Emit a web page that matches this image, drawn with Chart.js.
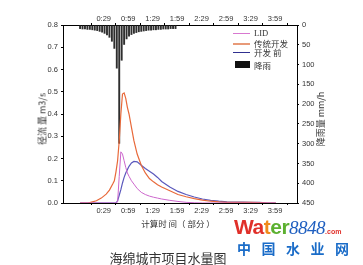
<!DOCTYPE html>
<html>
<head>
<meta charset="utf-8">
<script src="https://cdn.jsdelivr.net/npm/chart.js@4"></script>
<style>
  body { margin: 0; background: #fff; }
  #wrap { position: relative; width: 363px; height: 265px; overflow: hidden; font-family: "Noto Sans CJK SC", sans-serif; color: #333; }
  #chart { position: absolute; left: 0; top: 0; }
  .abs { position: absolute; white-space: nowrap; }
  .leg { position: absolute; font-size: 8.5px; line-height: 10px; color: #333; }
  .sw { position: absolute; width: 17px; height: 0; border-top: 1px solid; }
</style>
</head>
<body>
<div id="wrap">
  <canvas id="chart" width="363" height="265"></canvas>

  <!-- axis titles -->
  <div class="abs" style="left:42px;top:119px;font-size:9px;transform:translate(-50%,-50%) rotate(-90deg);">径流 量 m3/s</div>
  <div class="abs" style="left:320px;top:119px;font-size:9px;transform:translate(-50%,-50%) rotate(-90deg);">降雨量 mm/h</div>
  <div class="abs" style="left:178px;top:223px;font-size:8.5px;transform:translate(-50%,-50%);">计算时 间（ 部分 ）</div>

  <!-- legend -->
  <div class="sw" style="left:233px;top:33px;border-color:#d878d0;"></div>
  <div class="leg" style="left:254px;top:28px;font-family:'Liberation Serif',serif;">LID</div>
  <div class="sw" style="left:233px;top:43px;border-color:#e89a78;border-top-width:2px;"></div>
  <div class="leg" style="left:254px;top:38px;">传统开发</div>
  <div class="sw" style="left:233px;top:52px;border-color:#303090;"></div>
  <div class="leg" style="left:254px;top:47px;">开发 前</div>
  <div class="abs" style="left:235px;top:61px;width:15px;height:7px;background:#111;"></div>
  <div class="leg" style="left:254px;top:60px;">降雨</div>

  <!-- caption -->
  <div class="abs" style="left:168px;top:257px;font-size:13px;transform:translate(-50%,-50%);color:#333;">海绵城市项目水量图</div>

  <!-- watermark -->
  <div class="abs" style="left:234px;top:216px;font-family:'Liberation Sans',sans-serif;font-weight:bold;font-size:21px;line-height:22px;letter-spacing:-0.5px;">
    <span style="color:#e0302a;">Wa</span><span style="color:#f08a1c;">t</span><span style="color:#5cb030;">er</span><span style="font-family:'Liberation Serif',serif;font-style:italic;font-weight:normal;color:#1f5fc0;font-size:19px;">8848</span><span style="color:#e0302a;font-size:7px;letter-spacing:0;">.com</span>
  </div>
  <div class="abs" style="left:237px;top:240px;font-size:14px;line-height:16px;font-weight:bold;color:#1a6cc8;letter-spacing:10.5px;">中国水业网</div>
</div>

<script>
// rainfall, every 3 minutes (mm/h)
const rainTime = [0, 3, 6, 9, 12, 15, 18, 21, 24, 27, 30, 33, 36, 39, 42, 45, 48, 51, 54, 57,
                  60, 63, 66, 69, 72, 75, 78, 81, 84, 87, 90, 93, 96, 99, 102, 105, 108, 111, 114, 117];
const rain = [10, 11, 11, 12, 12, 13, 14, 15, 17, 19, 22, 26, 32, 42, 60, 110, 300, 90, 50, 36,
              29, 25, 22, 20, 18, 17, 16, 15, 14, 14, 13, 13, 12, 12, 11, 11, 11, 10, 10, 10];

// runoff (m3/s)
const flowTime = [0, 10, 14, 20, 26, 32, 36, 40, 42, 44, 46, 48, 50, 52, 54, 56, 58, 60, 63, 66,
                  70, 75, 80, 85, 90, 95, 100, 110, 120, 130, 140, 150, 160, 170, 180, 190, 200, 210, 220, 230, 240];
const lid = [0, 0, 0, 0, 0, 0, 0, 0, 0, 0, 0.005, 0.12, 0.23, 0.22, 0.19, 0.16, 0.135, 0.12, 0.10, 0.085,
             0.065, 0.048, 0.038, 0.031, 0.026, 0.022, 0.018, 0.012, 0.007, 0.003, 0.001, 0, 0, 0, 0, 0, 0, 0, 0, 0, 0];
const traditional = [0, 0, 0.004, 0.01, 0.022, 0.04, 0.058, 0.085, 0.10, 0.14, 0.19, 0.28, 0.40, 0.49, 0.495, 0.47, 0.43, 0.40, 0.34, 0.28,
                     0.22, 0.17, 0.135, 0.11, 0.095, 0.082, 0.072, 0.055, 0.038, 0.028, 0.02, 0.013, 0.008, 0.005, 0.003, 0.003, 0.003, 0.003, 0.002, 0, 0];
const preDev = [0, 0, 0, 0, 0, 0, 0, 0, 0, 0, 0.01, 0.035, 0.06, 0.09, 0.115, 0.135, 0.15, 0.165, 0.18, 0.187,
                0.185, 0.17, 0.155, 0.143, 0.13, 0.115, 0.097, 0.072, 0.052, 0.038, 0.027, 0.018, 0.012, 0.008, 0.005, 0.004, 0.004, 0.003, 0.003, 0, 0];

const xTicks = [29, 59, 89, 119, 149, 179, 209, 239];

function pairs(xs, ys) {
  return xs.map((x, i) => ({ x: x, y: ys[i] }));
}
function fmtTime(v) {
  return Math.floor(v / 60) + ':' + String(v % 60).padStart(2, '0');
}

const tickFont = { family: 'Liberation Sans', size: 7.5 };
const axisGrid = { drawOnChartArea: false, color: '#000', tickLength: 2 };
const axisBorder = { color: '#000', width: 1 };

new Chart(document.getElementById('chart'), {
  type: 'bar',
  data: {
    datasets: [
      {
        type: 'line', label: 'LID', data: pairs(flowTime, lid),
        borderColor: '#cc66cc', borderWidth: 1, pointRadius: 0, tension: 0,
        xAxisID: 'x', yAxisID: 'y'
      },
      {
        type: 'line', label: '传统开发', data: pairs(flowTime, traditional),
        borderColor: '#e8693a', borderWidth: 1.2, pointRadius: 0, tension: 0,
        xAxisID: 'x', yAxisID: 'y'
      },
      {
        type: 'line', label: '开发 前', data: pairs(flowTime, preDev),
        borderColor: '#5a58bc', borderWidth: 1.2, pointRadius: 0, tension: 0,
        xAxisID: 'x', yAxisID: 'y'
      },
      {
        type: 'bar', label: '降雨', data: pairs(rainTime, rain),
        backgroundColor: '#2e2e2e', barPercentage: 0.78, categoryPercentage: 1,
        xAxisID: 'x', yAxisID: 'y2'
      }
    ]
  },
  options: {
    responsive: false,
    animation: false,
    devicePixelRatio: 1,
    layout: { padding: 0 },
    plugins: { legend: { display: false }, tooltip: { enabled: false } },
    scales: {
      x: {
        type: 'linear', position: 'bottom', min: -3, max: 248,
        afterBuildTicks: s => { s.ticks = xTicks.map(v => ({ value: v })); },
        afterFit: s => { s.height = 62; },
        ticks: { font: tickFont, color: '#333', padding: 1, maxRotation: 0, callback: v => fmtTime(v) },
        grid: axisGrid, border: axisBorder
      },
      x2: {
        type: 'linear', position: 'top', min: -3, max: 248,
        afterBuildTicks: s => { s.ticks = xTicks.map(v => ({ value: v })); },
        afterFit: s => { s.height = 25; },
        ticks: { font: tickFont, color: '#333', padding: 0, maxRotation: 0, callback: v => fmtTime(v) },
        grid: axisGrid, border: axisBorder
      },
      y: {
        type: 'linear', position: 'left', min: 0, max: 0.8,
        afterFit: s => { s.width = 63; },
        ticks: { font: tickFont, color: '#333', stepSize: 0.1, padding: 3, callback: v => v.toFixed(1) },
        grid: axisGrid, border: axisBorder
      },
      y2: {
        type: 'linear', position: 'right', min: 0, max: 450, reverse: true,
        afterFit: s => { s.width = 66; },
        ticks: { font: tickFont, color: '#333', stepSize: 50, padding: 3 },
        grid: axisGrid, border: axisBorder
      }
    }
  }
});
</script>
</body>
</html>
